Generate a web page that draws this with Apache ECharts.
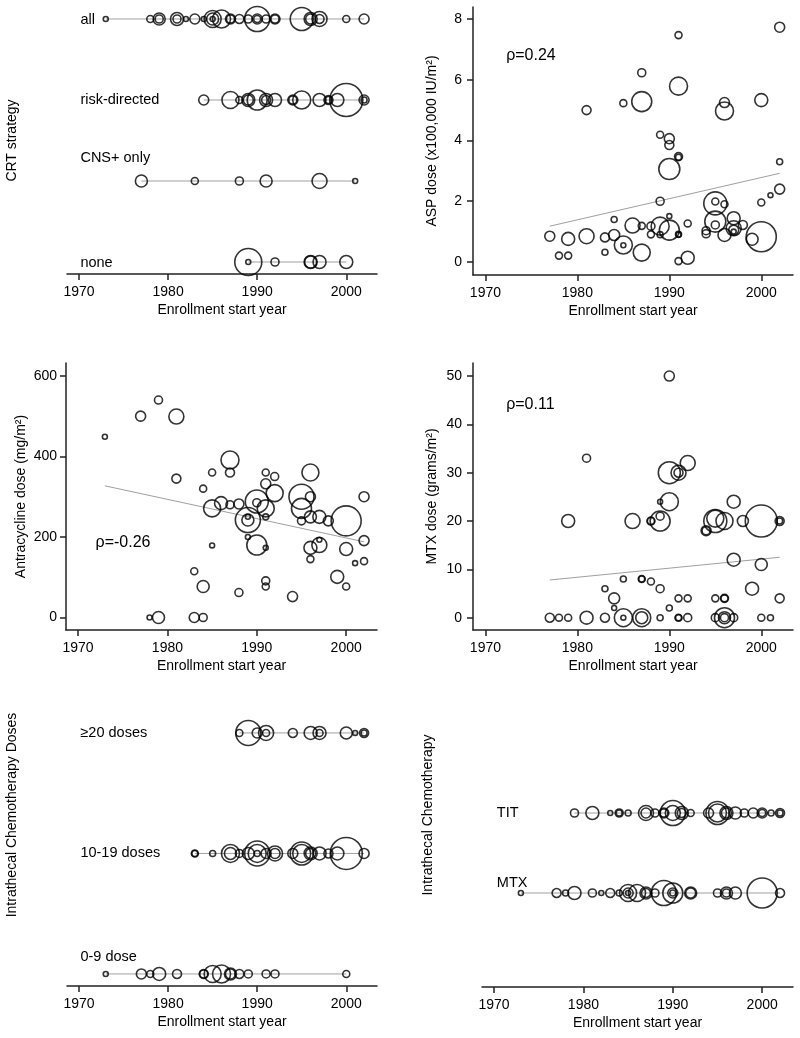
<!DOCTYPE html>
<html>
<head>
<meta charset="utf-8">
<script src="https://cdn.jsdelivr.net/npm/echarts@6/dist/echarts.min.js"></script>
<style>html,body{margin:0;padding:0;background:#fff}#c{width:800px;height:1038px}</style>
</head>
<body>
<div id="c"></div>
<script>
// ---------- DATA ----------
// x ticks (years)
const yearTicks = [1970, 1980, 1990, 2000];
const aspTicks = [0, 2, 4, 6, 8];
const anthTicks = [0, 200, 400, 600];
const mtxTicks = [0, 10, 20, 30, 40, 50];

// Panel 1: CRT strategy rows -> [year, n]
const crtRows = ['none', 'CNS+ only', 'risk-directed', 'all'];
const crtAll = [[1973,44],[1978,87],[1979,256],[1979,114],[1981,300],[1981,114],[1982,44],[1983,178],[1984,44],[1985,514],[1985,256],[1985,44],[1986,576],[1987,178],[1987,114],[1988,144],[1989,114],[1990,1111],[1990,178],[1990,87],[1991,114],[1992,178],[1992,114],[1995,940],[1996,300],[1996,178],[1997,400],[1997,144],[2000,87],[2002,178]];
const crtRisk = [[1984,178],[1987,514],[1988,87],[1989,300],[1989,178],[1990,711],[1991,300],[1991,144],[1992,300],[1994,178],[1994,114],[1995,576],[1997,300],[1998,144],[1998,87],[1999,300],[2000,1936],[2002,178],[2002,64]];
const crtCns = [[1977,256],[1983,87],[1988,114],[1991,256],[1997,400],[2001,44]];
const crtNone = [[1989,1296],[1989,44],[1992,114],[1996,300],[1996,256],[1997,300],[2000,300]];

// Panel 2: ASP dose -> [year, dose, n]
const aspData = [[1977,0.85,178],[1978,0.21,87],[1979,0.21,87],[1979,0.76,300],[1981,0.85,400],[1981,5.0,144],[1983,0.81,144],[1983,0.32,64],[1984,1.4,64],[1984,0.89,216],[1985,0.56,576],[1985,0.55,44],[1985,5.23,87],[1986,1.2,400],[1987,1.19,87],[1987,0.31,514],[1987,5.28,711],[1987,6.23,114],[1988,1.18,114],[1988,0.91,87],[1989,1.18,576],[1989,0.9,64],[1989,2.0,114],[1989,4.19,87],[1990,1.05,711],[1990,1.51,44],[1990,3.06,784],[1990,3.85,144],[1990,4.06,178],[1991,0.91,64],[1991,0.9,44],[1991,0.03,87],[1991,3.47,114],[1991,3.45,64],[1991,5.79,576],[1991,7.47,87],[1992,1.27,87],[1992,0.14,300],[1994,1.03,114],[1994,0.93,114],[1995,1.99,87],[1995,1.93,940],[1995,1.33,784],[1995,1.22,114],[1996,1.9,87],[1996,0.89,300],[1996,5.25,178],[1996,4.97,576],[1997,1.44,300],[1997,1.11,400],[1997,1.05,178],[1997,1.0,44],[1998,1.22,144],[1999,0.75,256],[2000,0.83,1600],[2000,1.96,87],[2000,5.33,300],[2001,2.2,44],[2002,2.4,178],[2002,3.3,64],[2002,7.73,178]];
const aspFit = [[1977,1.18],[2002,2.92]];
const aspRho = 'ρ=0.24';

// Panel 3: Anthracycline dose -> [year, dose, n]
const anthData = [[1973,449,44],[1977,500,178],[1978,0,44],[1979,540,114],[1979,0,256],[1981,499,400],[1981,345,144],[1983,115,87],[1983,0,178],[1984,320,87],[1984,77,256],[1984,0,114],[1985,360,87],[1985,271,514],[1985,179,44],[1986,284,300],[1987,391,576],[1987,360,144],[1987,280,114],[1988,282,178],[1988,62,114],[1989,242,1111],[1989,242,256],[1989,250,44],[1989,200,44],[1990,288,940],[1990,285,114],[1990,180,711],[1991,360,87],[1991,332,178],[1991,271,514],[1991,250,64],[1991,173,44],[1991,91,114],[1991,77,87],[1992,350,114],[1992,309,514],[1994,52,178],[1995,300,1111],[1995,271,711],[1995,240,114],[1996,360,514],[1996,300,178],[1996,250,256],[1996,173,300],[1996,145,87],[1997,250,300],[1997,180,400],[1997,193,44],[1998,240,178],[1999,101,300],[2000,240,1600],[2000,170,300],[2000,77,87],[2001,135,44],[2002,300,178],[2002,191,178],[2002,140,87]];
const anthFit = [[1973,327],[2002,188]];
const anthRho = 'ρ=-0.26';

// Panel 4: MTX dose -> [year, dose, n]
const mtxData = [[1977,0,144],[1978,0,87],[1979,0,87],[1979,20,300],[1981,0,300],[1981,33,114],[1983,0,144],[1983,6,64],[1984,4,216],[1984,2,44],[1985,8,64],[1985,0,576],[1985,0,44],[1986,20,400],[1987,8,87],[1987,8,64],[1987,0,576],[1987,0,256],[1988,7.5,87],[1988,20,114],[1988,20,87],[1989,6,114],[1989,20,711],[1989,21,114],[1989,24,44],[1989,0,64],[1990,2,64],[1990,24,576],[1990,30,860],[1990,50,178],[1991,4,87],[1991,30,400],[1991,30,144],[1991,0,87],[1991,0,64],[1992,4,87],[1992,32,400],[1992,0,114],[1994,18,178],[1994,18,114],[1995,4,87],[1995,20,940],[1995,20.5,514],[1995,0,114],[1996,4,114],[1996,4,87],[1996,20,514],[1996,0,711],[1996,0,256],[1996,0,114],[1997,24,300],[1997,12,300],[1997,0,114],[1998,20,216],[1999,6,300],[2000,20,1820],[2000,11,256],[2000,0,87],[2001,0,64],[2002,20,144],[2002,20,64],[2002,4,144]];
const mtxFit = [[1977,7.8],[2002,12.5]];
const mtxRho = 'ρ=0.11';

// Panel 5: Intrathecal chemotherapy doses -> [year, n]
const doseRows = ['0-9 dose', '10-19 doses', '≥20 doses'];
const doseHigh = [[1988,87],[1989,1111],[1990,178],[1991,400],[1991,87],[1994,144],[1996,300],[1997,300],[1997,87],[2000,256],[2001,44],[2002,144],[2002,64]];
const doseMid = [[1983,87],[1983,64],[1985,64],[1987,576],[1987,256],[1988,114],[1989,256],[1990,1111],[1990,576],[1990,64],[1991,178],[1992,400],[1992,178],[1994,178],[1995,940],[1995,576],[1996,300],[1996,178],[1997,300],[1998,144],[1999,300],[2000,1820],[2002,178]];
const doseLow = [[1973,44],[1977,178],[1978,87],[1979,300],[1981,144],[1984,144],[1984,114],[1985,514],[1986,576],[1987,256],[1987,178],[1988,144],[1989,114],[1991,114],[1992,114],[2000,87]];

// Panel 6: Intrathecal chemotherapy type -> [year, n]
const itRows = ['MTX', 'TIT'];
const itTIT = [[1979,114],[1981,300],[1983,44],[1984,114],[1984,64],[1985,64],[1987,400],[1987,178],[1988,114],[1989,178],[1989,114],[1990,1111],[1990,400],[1991,300],[1991,144],[1992,87],[1994,178],[1995,940],[1995,576],[1996,300],[1996,178],[1997,256],[1998,114],[1999,178],[2000,178],[2000,87],[2001,64],[2002,144],[2002,64]];
const itMTX = [[1973,44],[1977,144],[1978,64],[1979,300],[1981,114],[1982,44],[1983,144],[1984,64],[1985,514],[1985,178],[1985,44],[1986,514],[1987,256],[1987,144],[1988,114],[1989,1111],[1990,711],[1990,178],[1990,64],[1992,256],[1992,178],[1995,114],[1996,256],[1996,114],[1997,256],[2000,1600],[2002,144]];

// ---------- CHART ----------
const FONT = '"Liberation Sans", Arial, Helvetica, sans-serif';
const INK = '#000';
const AX = '#222';
const X_MIN = 1968.65, X_MAX = 2003.45;

const grids = [
  {left: 67, top: 7, width: 310, height: 267},
  {left: 473, top: 7, width: 320, height: 268},
  {left: 66, top: 363, width: 311, height: 267},
  {left: 473, top: 363, width: 320, height: 267},
  {left: 67, top: 644, width: 310, height: 342},
  {left: 482, top: 643, width: 311, height: 344}
];

function xAxisFor(gi) {
  return {
    gridIndex: gi, type: 'value', min: X_MIN, max: X_MAX, splitLine: {show: false},
    axisLine: {onZero: false, lineStyle: {color: AX, width: 1.5}},
    axisTick: {customValues: yearTicks, length: 6, lineStyle: {color: AX, width: 1.5}},
    axisLabel: {customValues: yearTicks, formatter: v => String(v), fontSize: 14, color: INK, margin: 11, fontFamily: FONT},
    name: 'Enrollment start year', nameLocation: 'middle', nameGap: 29, nameMoveOverlap: false,
    nameTextStyle: {fontSize: 14, color: INK, fontFamily: FONT}
  };
}
function yAxisFor(gi, min, max, name, gap, ticks, margin) {
  const a = {
    gridIndex: gi, type: 'value', min: min, max: max, splitLine: {show: false},
    name: name, nameLocation: 'middle', nameGap: gap, nameMoveOverlap: false,
    nameTextStyle: {fontSize: 14, color: INK, fontFamily: FONT}
  };
  if (ticks) {
    a.axisLine = {show: true, onZero: false, lineStyle: {color: AX, width: 1.5}};
    a.axisTick = {show: true, customValues: ticks, length: 6, lineStyle: {color: AX, width: 1.5}};
    a.axisLabel = {customValues: ticks, formatter: v => String(v), fontSize: 14, color: INK, margin: margin || 11, fontFamily: FONT};
  } else {
    a.axisLine = {show: false, onZero: false};
    a.axisTick = {show: false};
    a.axisLabel = {show: false};
  }
  return a;
}

const bubbleStyle = {color: 'rgba(0,0,0,0)', borderColor: '#000', borderWidth: 1.6};
const sizeOf = v => Math.sqrt(v[2]) * 0.75;

function bubbles(gi, data) {
  return {type: 'scatter', xAxisIndex: gi, yAxisIndex: gi, data: data, symbol: 'circle',
    symbolSize: sizeOf, itemStyle: bubbleStyle, silent: true, z: 3};
}
function greyLine(gi, data) {
  return {type: 'line', xAxisIndex: gi, yAxisIndex: gi, data: data, showSymbol: false, symbol: 'none',
    lineStyle: {color: '#a0a0a0', width: 1}, silent: true, z: 2};
}
function rowLine(gi, rows, row) {
  const ys = rows.map(d => d[0]);
  return greyLine(gi, [[Math.min(...ys), row], [Math.max(...ys), row]]);
}
function rowBubbles(gi, rows, row) {
  return bubbles(gi, rows.map(d => [d[0], row, d[1]]));
}
function texts(gi, items, size) {
  return {type: 'scatter', xAxisIndex: gi, yAxisIndex: gi, symbol: 'circle', symbolSize: 1,
    itemStyle: {color: '#fff', opacity: 1}, silent: true, z: 1,
    data: items.map(it => ({name: it[0], value: [it[1], it[2]], label: {offset: [0, it[3] || 0]}})),
    label: {show: true, position: 'right', distance: 0, formatter: p => p.name, opacity: 1,
      fontSize: size, color: '#000', fontFamily: FONT}};
}

const series = [];
// Panel 1
const crtSets = [crtNone, crtCns, crtRisk, crtAll];
crtSets.forEach((s, i) => { series.push(rowLine(0, s, i + 1)); series.push(rowBubbles(0, s, i + 1)); });
series.push(texts(0, [[crtRows[3], 1970.1, 4, 1], [crtRows[2], 1970.1, 3, 0], [crtRows[1], 1970.1, 2, -23], [crtRows[0], 1970.1, 1, 1]], 14.5));
// Panel 2
series.push(greyLine(1, aspFit));
series.push(bubbles(1, aspData));
series.push(texts(1, [[aspRho, 1972.2, 6.78, 0]], 16));
// Panel 3
series.push(greyLine(2, anthFit));
series.push(bubbles(2, anthData));
series.push(texts(2, [[anthRho, 1971.9, 185, 0]], 16));
// Panel 4
series.push(greyLine(3, mtxFit));
series.push(bubbles(3, mtxData));
series.push(texts(3, [[mtxRho, 1972.2, 44, 0]], 16));
// Panel 5
const doseSets = [doseLow, doseMid, doseHigh];
doseSets.forEach((s, i) => { series.push(rowLine(4, s, i + 1)); series.push(rowBubbles(4, s, i + 1)); });
series.push(texts(4, [[doseRows[2], 1970.1, 3, 0], [doseRows[1], 1970.1, 2, 0], [doseRows[0], 1970.1, 1, -17]], 14.5));
// Panel 6
const itSets = [itMTX, itTIT];
itSets.forEach((s, i) => { series.push(rowLine(5, s, i + 1)); series.push(rowBubbles(5, s, i + 1)); });
series.push(texts(5, [[itRows[1], 1970.25, 2, 0], [itRows[0], 1970.25, 1, -10]], 14.5));

const option = {
  animation: false,
  backgroundColor: '#fff',
  grid: grids,
  xAxis: [0, 1, 2, 3, 4, 5].map(xAxisFor),
  yAxis: [
    yAxisFor(0, 0.852, 4.148, 'CRT strategy', 48, null),
    yAxisFor(1, -0.428, 8.395, 'ASP dose (x100,000 IU/m²)', 34, aspTicks),
    yAxisFor(2, -31, 632, 'Antracycline dose (mg/m²)', 38, anthTicks, 9),
    yAxisFor(3, -2.55, 52.7, 'MTX dose (grams/m²)', 34, mtxTicks),
    yAxisFor(4, 0.9, 3.738, 'Intrathecal Chemotherapy Doses', 48, null),
    yAxisFor(5, -0.175, 4.125, 'Intrathecal Chemotherapy', 47, null)
  ],
  series: series
};
const chart = echarts.init(document.getElementById('c'), null, {renderer: 'canvas'});
chart.setOption(option);
</script>
</body>
</html>
